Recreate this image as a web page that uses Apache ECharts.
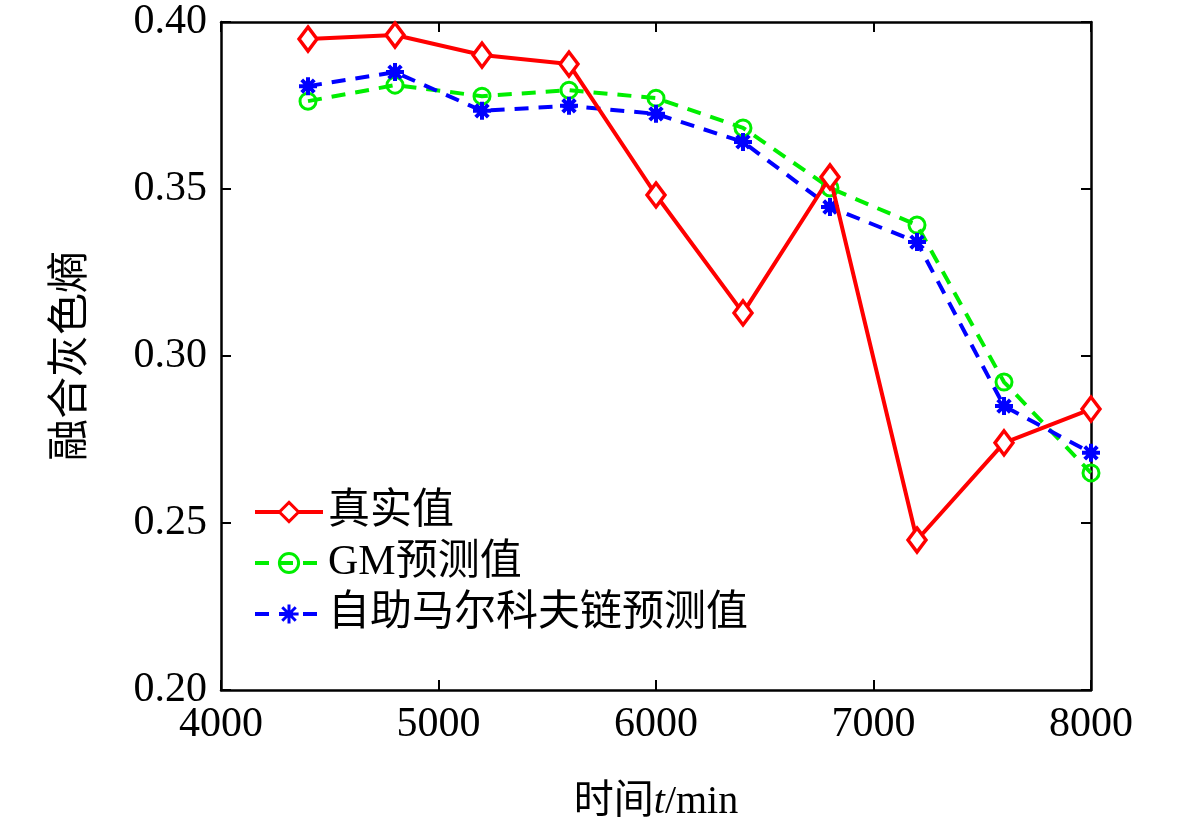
<!DOCTYPE html>
<html>
<head>
<meta charset="utf-8">
<script src="https://cdn.jsdelivr.net/npm/echarts@6/dist/echarts.min.js"></script>
<style>
  html, body { margin: 0; padding: 0; background: #fff; }
  #chart { width: 1181px; height: 830px; }
</style>
</head>
<body>
<div id="chart"></div>
<script>
// 时间（min）
const times = [4400, 4800, 5200, 5600, 6000, 6400, 6800, 7200, 7600, 8000];
// 真实值
const realValues = [0.3949, 0.3961, 0.3901, 0.3874, 0.3482, 0.3129, 0.3536, 0.2449, 0.2740, 0.2841];
// GM预测值
const gmValues = [0.3763, 0.3811, 0.3778, 0.3796, 0.3772, 0.3683, 0.3503, 0.3392, 0.2922, 0.2650];
// 自助马尔科夫链预测值
const markovValues = [0.3808, 0.3850, 0.3734, 0.3749, 0.3725, 0.3641, 0.3446, 0.3341, 0.2850, 0.2710];
const seriesNames = ['真实值', 'GM预测值', '自助马尔科夫链预测值'];

const FONT = '"Liberation Serif", "Noto Sans CJK SC", serif';
const pair = (xs, ys) => xs.map((x, i) => [x, ys[i]]);
const asterisk = 'path://M0,-10 L0,10 M-10,0 L10,0 M-7,-7 L7,7 M-7,7 L7,-7';

const chart = echarts.init(document.getElementById('chart'));

const axisBase = {
  axisLine: { show: true, onZero: false, lineStyle: { color: '#000', width: 2.5 } },
  axisTick: { show: true, inside: true, length: 10, lineStyle: { color: '#000', width: 2 } },
  splitLine: { show: false }
};

chart.setOption({
  backgroundColor: '#fff',
  animation: false,
  grid: { left: 221, right: 90, top: 22, bottom: 140 },
  legend: {
    orient: 'vertical',
    left: 248,
    top: 486,
    itemWidth: 68,
    itemHeight: 24,
    itemGap: 9,
    lineStyle: { width: 4 },
    itemStyle: { borderWidth: 3 },
    textStyle: { fontFamily: FONT, fontSize: 42, color: '#000' },
    data: seriesNames
  },
  xAxis: [
    Object.assign({}, axisBase, {
      type: 'value', min: 4000, max: 8000, interval: 1000,
      name: '{z|时间}{i|t}{z|/min}',
      nameLocation: 'middle', nameGap: 92,
      nameTextStyle: {
        rich: {
          z: { fontFamily: FONT, fontSize: 40, color: '#000' },
          i: { fontFamily: FONT, fontSize: 40, fontStyle: 'italic', color: '#000' }
        }
      },
      axisLabel: { fontFamily: FONT, fontSize: 42, color: '#000', margin: 14, formatter: v => String(v) }
    }),
    Object.assign({}, axisBase, {
      type: 'value', min: 4000, max: 8000, interval: 1000, position: 'top',
      axisLabel: { show: false }
    })
  ],
  yAxis: [
    Object.assign({}, axisBase, {
      type: 'value', min: 0.2, max: 0.4, interval: 0.05,
      name: '融合灰色熵',
      nameLocation: 'middle', nameGap: 128, nameRotate: 90,
      nameTextStyle: { fontFamily: FONT, fontSize: 42, color: '#000' },
      axisLabel: {
        fontFamily: FONT, fontSize: 42, color: '#000', margin: 14,
        formatter: v => v.toFixed(2)
      }
    }),
    Object.assign({}, axisBase, {
      type: 'value', min: 0.2, max: 0.4, interval: 0.05, position: 'right',
      axisLabel: { show: false }
    })
  ],
  series: [
    {
      name: seriesNames[0], type: 'line', data: pair(times, realValues),
      symbol: 'diamond', symbolSize: [18, 24],
      lineStyle: { color: '#ff0000', width: 4 },
      itemStyle: { color: '#fff', borderColor: '#ff0000', borderWidth: 3.5 },
      z: 3
    },
    {
      name: seriesNames[1], type: 'line', data: pair(times, gmValues),
      symbol: 'circle', symbolSize: 16,
      lineStyle: { color: '#00ee00', width: 4, type: [14, 10] },
      itemStyle: { color: 'rgba(255,255,255,0)', borderColor: '#00ee00', borderWidth: 3 },
      z: 2
    },
    {
      name: seriesNames[2], type: 'line', data: pair(times, markovValues),
      symbol: asterisk, symbolSize: 18,
      lineStyle: { color: '#0000ff', width: 4, type: [14, 10] },
      itemStyle: { color: '#0000ff', borderColor: '#0000ff', borderWidth: 4 },
      z: 2
    }
  ]
});
</script>
</body>
</html>
